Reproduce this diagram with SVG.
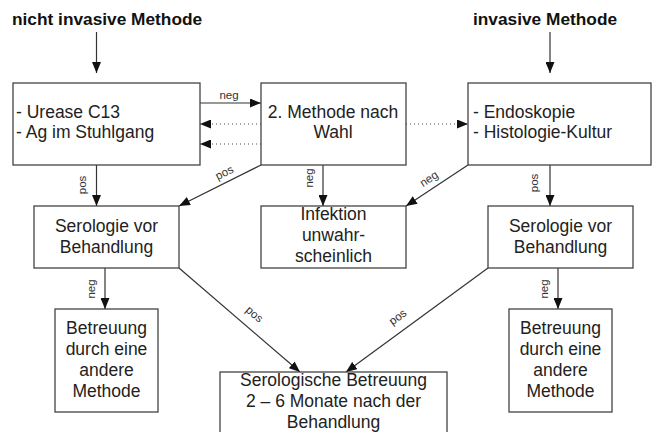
<svg xmlns="http://www.w3.org/2000/svg" width="653" height="432" viewBox="0 0 653 432">
<style>
.box{fill:#fff;stroke:#444;stroke-width:1.3}
.t{font-family:"Liberation Sans",Arial,sans-serif;font-size:17.5px;fill:#222}
.c{text-anchor:middle}
.title{font-family:"Liberation Sans",Arial,sans-serif;font-size:17.3px;font-weight:bold;fill:#111}
.lbl{font-family:"Liberation Sans",Arial,sans-serif;font-size:11.5px;fill:#333;text-anchor:middle}
.ln{stroke:#333;stroke-width:1.2;fill:none;marker-end:url(#ah)}
.dot{stroke:#888;stroke-width:1.3;fill:none;stroke-dasharray:1 3;marker-end:url(#ah)}
</style>
<defs>
<marker id="ah" markerUnits="userSpaceOnUse" markerWidth="11" markerHeight="9" refX="11" refY="4.5" orient="auto">
<path d="M0,0 L11,4.5 L0,9 z" fill="#111"/>
</marker>
</defs>
<rect width="653" height="432" fill="#fff"/>
<text class="title" x="12" y="25">nicht invasive Methode</text>
<text class="title" x="473" y="25">invasive Methode</text>
<g id="connectors">
<line class="ln" x1="96.5" y1="32" x2="96.5" y2="73"/>
<line class="ln" x1="550" y1="32" x2="550" y2="73"/>
<line class="ln" x1="200" y1="103" x2="261" y2="103"/>
<line class="dot" x1="261" y1="124" x2="200" y2="124"/>
<line class="dot" x1="261" y1="144" x2="200" y2="144"/>
<line class="dot" x1="406" y1="124" x2="468" y2="124"/>
<line class="ln" x1="96.5" y1="165" x2="96.5" y2="206"/>
<line class="ln" x1="261" y1="165" x2="179" y2="206"/>
<line class="ln" x1="323" y1="165" x2="323" y2="206"/>
<line class="ln" x1="468" y1="165" x2="406" y2="206"/>
<line class="ln" x1="550" y1="165" x2="550" y2="206"/>
<line class="ln" x1="105" y1="268" x2="105" y2="309"/>
<line class="ln" x1="179" y1="268" x2="300" y2="372"/>
<line class="ln" x1="488" y1="268" x2="346" y2="372"/>
<line class="ln" x1="558" y1="268" x2="558" y2="309"/>
<text class="lbl" x="229" y="99">neg</text>
<text class="lbl" transform="translate(86,185) rotate(-90)">pos</text>
<text class="lbl" transform="translate(226,176) rotate(-26.6)">pos</text>
<text class="lbl" transform="translate(313,178) rotate(-90)">neg</text>
<text class="lbl" transform="translate(431,182) rotate(-33.5)">neg</text>
<text class="lbl" transform="translate(538,183) rotate(-90)">pos</text>
<text class="lbl" transform="translate(95,289) rotate(-90)">neg</text>
<text class="lbl" transform="translate(548,289) rotate(-90)">neg</text>
<text class="lbl" transform="translate(252,317) rotate(40.7)">pos</text>
<text class="lbl" transform="translate(400,320) rotate(-35.9)">pos</text>
</g>
<g id="n1"><rect class="box" x="13" y="83" width="187" height="82"/>
<text class="t" x="16" y="118">- Urease C13</text><text class="t" x="16" y="138">- Ag im Stuhlgang</text></g>
<g id="n2"><rect class="box" x="261" y="83" width="145" height="82"/>
<text class="t c" x="333" y="118">2. Methode nach</text><text class="t c" x="333" y="138">Wahl</text></g>
<g id="n3"><rect class="box" x="468" y="83" width="183" height="82"/>
<text class="t" x="473" y="118">- Endoskopie</text><text class="t" x="473" y="138">- Histologie-Kultur</text></g>
<g id="n4"><rect class="box" x="34" y="206" width="145" height="62"/>
<text class="t c" x="106.5" y="232">Serologie vor</text><text class="t c" x="106.5" y="253">Behandlung</text></g>
<g id="n5"><rect class="box" x="261" y="206" width="145" height="62"/>
<text class="t c" x="333.5" y="220">Infektion</text><text class="t c" x="333.5" y="241">unwahr-</text><text class="t c" x="333.5" y="262">scheinlich</text></g>
<g id="n6"><rect class="box" x="488" y="206" width="145" height="62"/>
<text class="t c" x="560.5" y="232">Serologie vor</text><text class="t c" x="560.5" y="253">Behandlung</text></g>
<g id="n7"><rect class="box" x="55" y="309" width="103" height="103"/>
<text class="t c" x="106.5" y="334">Betreuung</text><text class="t c" x="106.5" y="355">durch eine</text><text class="t c" x="106.5" y="376">andere</text><text class="t c" x="106.5" y="397">Methode</text></g>
<g id="n8"><rect class="box" x="509" y="309" width="103" height="103"/>
<text class="t c" x="560.5" y="334">Betreuung</text><text class="t c" x="560.5" y="355">durch eine</text><text class="t c" x="560.5" y="376">andere</text><text class="t c" x="560.5" y="397">Methode</text></g>
<g id="n9"><rect class="box" x="220" y="372" width="227" height="66"/>
<text class="t c" x="333.5" y="386">Serologische Betreuung</text><text class="t c" x="333.5" y="407">2 – 6 Monate nach der</text><text class="t c" x="333.5" y="428">Behandlung</text></g>
</svg>
